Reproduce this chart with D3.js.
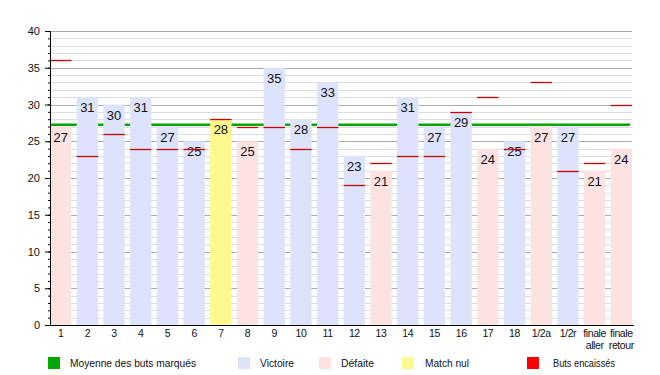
<!DOCTYPE html>
<html>
<head>
<meta charset="utf-8">
<script src="https://cdn.jsdelivr.net/npm/d3@7"></script>
<style>
  body { margin: 0; background: #fff; }
  text { font-family: "Liberation Sans", Arial, sans-serif; fill: #111; }
</style>
</head>
<body>
<div id="chart"></div>
<script>
// data
var matches = ["1","2","3","4","5","6","7","8","9","10","11","12","13","14","15","16","17","18","1/2a","1/2r","finale aller","finale retour"];
var butsMarques = [27,31,30,31,27,25,28,25,35,28,33,23,21,31,27,29,24,25,27,27,21,24];
var butsEncaisses = [36,23,26,24,24,24,28,27,27,24,27,19,22,23,23,29,31,24,33,21,22,30];
var resultats = ["D","V","V","V","V","V","N","D","V","V","V","V","D","V","V","V","D","V","D","V","D","D"];
var moyenne = 27.23;
var yTicks = [0,5,10,15,20,25,30,35,40];

var legendItems = [
  { label: "Moyenne des buts marqués", color: "#00a800", x: 48, tx: 70, tw: 126 },
  { label: "Victoire", color: "#dde3fb", x: 238, tx: 260, tw: 34 },
  { label: "Défaite", color: "#fde2e2", x: 319, tx: 341, tw: 33 },
  { label: "Match nul", color: "#fdf98f", x: 402, tx: 425, tw: 44 },
  { label: "Buts encaissés", color: "#ff0000", x: 527, tx: 553, tw: 62 }
];

var colors = { V: "#dde3fb", D: "#fde2e2", N: "#fdf98f" };

var w = 660, h = 375;
var margin = { top: 31, right: 28, bottom: 50, left: 50 };
var width = w - margin.left - margin.right;
var height = h - margin.top - margin.bottom;

var svg = d3.select("#chart").append("svg")
    .attr("width", w)
    .attr("height", h)
  .append("g")
    .attr("transform", "translate(" + margin.left + "," + margin.top + ")");

var x = d3.scaleBand().domain(matches).range([0, width]).paddingInner(0.2).paddingOuter(0);
var y = d3.scaleLinear().domain([0, 40]).range([height, 0]);

// grid
svg.append("g").selectAll("line")
  .data(d3.range(1, 41))
  .enter().append("line")
    .attr("x1", 0).attr("x2", width)
    .attr("y1", function(d) { return Math.round(y(d)) + 0.5; })
    .attr("y2", function(d) { return Math.round(y(d)) + 0.5; })
    .attr("stroke", function(d) { return d % 5 == 0 ? "#aaa" : "#ddd"; })
    .attr("stroke-width", 1);

// mean line (behind bars)
svg.append("line")
  .attr("x1", 0).attr("x2", width - 2)
  .attr("y1", y(moyenne)).attr("y2", y(moyenne))
  .attr("stroke", "#00a800")
  .attr("stroke-width", 2.5);

// bars
svg.selectAll("rect.bar")
  .data(matches)
  .enter().append("rect")
    .attr("class", "bar")
    .attr("x", function(d) { return x(d); })
    .attr("y", function(d, i) { return y(butsMarques[i]); })
    .attr("width", x.bandwidth())
    .attr("height", function(d, i) { return height - y(butsMarques[i]); })
    .attr("fill", function(d, i) { return colors[resultats[i]]; });

// value labels
svg.selectAll("text.val")
  .data(matches)
  .enter().append("text")
    .attr("class", "val")
    .attr("x", function(d) { return x(d) + x.bandwidth() / 2; })
    .attr("y", function(d, i) { return y(butsMarques[i]) + 15; })
    .attr("text-anchor", "middle")
    .style("font-size", "13px")
    .text(function(d, i) { return butsMarques[i]; });

// goals conceded
svg.selectAll("line.enc")
  .data(matches)
  .enter().append("line")
    .attr("class", "enc")
    .attr("x1", function(d) { return x(d); })
    .attr("x2", function(d) { return x(d) + x.bandwidth(); })
    .attr("y1", function(d, i) { return Math.round(y(butsEncaisses[i])) + 0.5; })
    .attr("y2", function(d, i) { return Math.round(y(butsEncaisses[i])) + 0.5; })
    .attr("stroke", "#cc0000")
    .attr("stroke-width", 1.3);

// Y axis
var yAxis = svg.append("g")
  .call(d3.axisLeft(y).tickValues(yTicks).tickSize(5).tickPadding(5));
yAxis.selectAll("text").style("font-size", "11px").style("font-family", "Liberation Sans, Arial, sans-serif");
yAxis.select(".domain").attr("stroke", "#000");

svg.append("g")
  .call(d3.axisLeft(y).tickValues(d3.range(0, 41)).tickSize(2).tickFormat(""))
  .select(".domain").remove();

// X axis
svg.append("line")
  .attr("x1", 0).attr("x2", width + 2)
  .attr("y1", height + 0.5).attr("y2", height + 0.5)
  .attr("stroke", "#000");

var xl = svg.append("g").selectAll("text.xl")
  .data(matches)
  .enter().append("text")
    .attr("class", "xl")
    .attr("x", function(d) { return x(d) + x.bandwidth() / 2; })
    .attr("y", height + 12)
    .attr("text-anchor", "middle")
    .style("font-size", "10.5px")
    .style("letter-spacing", "-0.4px");
xl.each(function(d) {
  var parts = d.split(" ");
  var t = d3.select(this);
  parts.forEach(function(p, k) {
    t.append("tspan")
      .attr("x", x(d) + x.bandwidth() / 2)
      .attr("dy", k == 0 ? 0 : 12)
      .text(p);
  });
});

// legend
var legend = d3.select("svg").append("g");
legendItems.forEach(function(it) {
  legend.append("rect")
    .attr("x", it.x).attr("y", 357)
    .attr("width", 12).attr("height", 12)
    .attr("fill", it.color);
  legend.append("text")
    .attr("x", it.tx).attr("y", 367)
    .attr("textLength", it.tw)
    .attr("lengthAdjust", "spacingAndGlyphs")
    .style("font-size", "11.5px")
    .text(it.label);
});
</script>
</body>
</html>
